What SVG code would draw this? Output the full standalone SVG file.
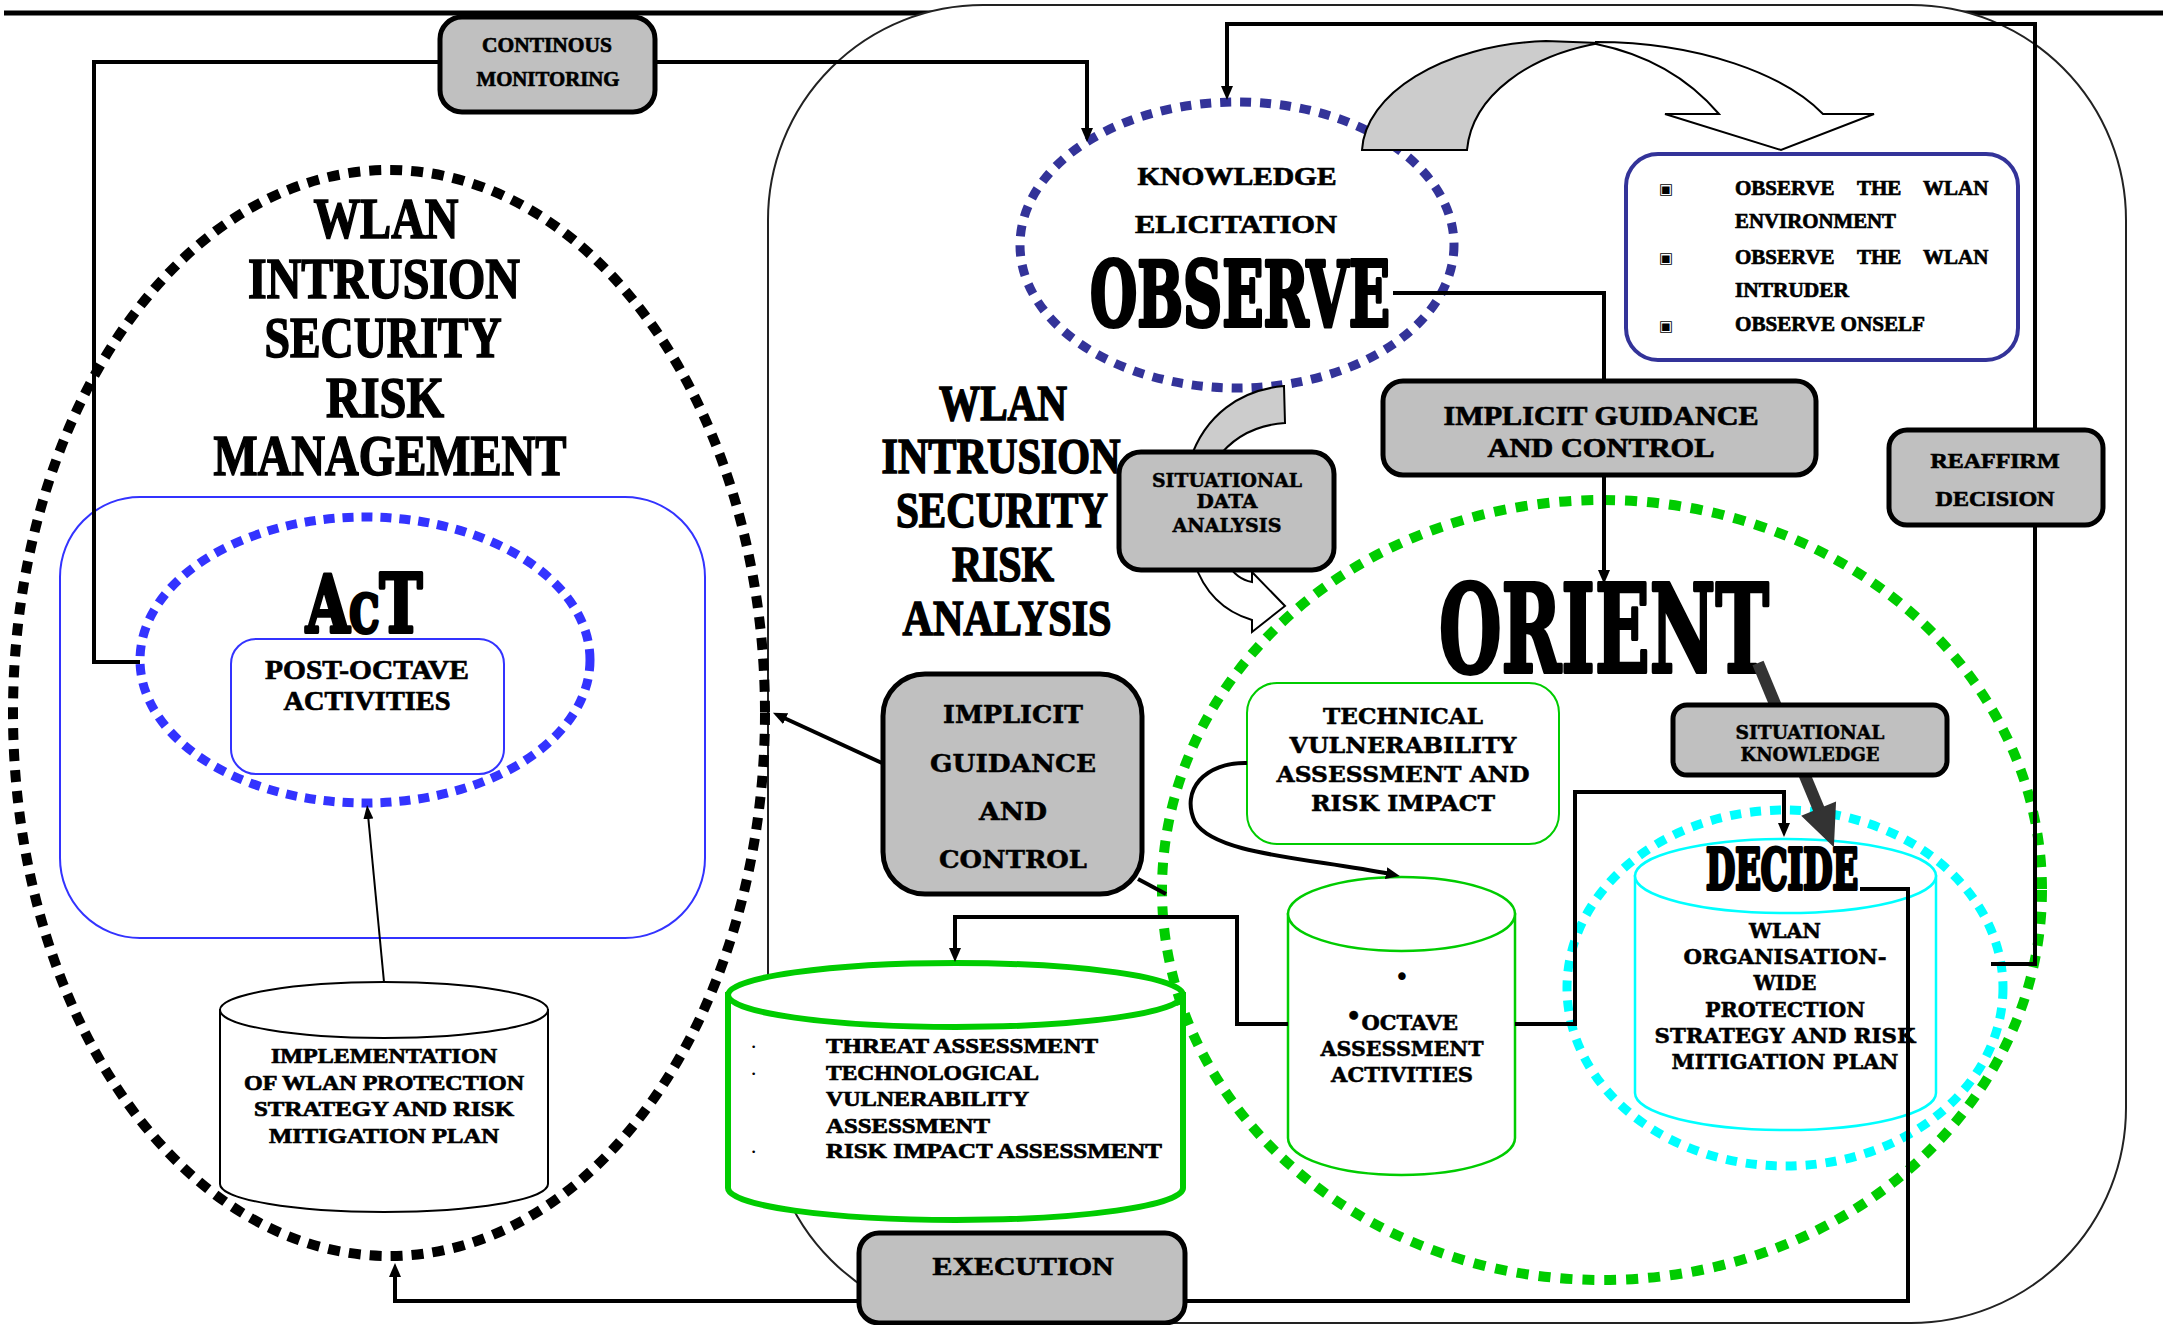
<svg xmlns="http://www.w3.org/2000/svg" width="2163" height="1325" viewBox="0 0 2163 1325">
  <defs>
    <style>
      .n { font-family: "Liberation Serif", "DejaVu Serif", serif; font-weight: bold; fill: #000; stroke: #000; stroke-width: 0.7; }
      .w { font-family: "DejaVu Serif", "Liberation Serif", serif; font-weight: bold; fill: #000; stroke: #000; stroke-width: 0.5; }
      .g { font-family: "DejaVu Serif", "Liberation Serif", serif; font-weight: bold; fill: #000; stroke: #000; stroke-width: 4; stroke-linejoin: round; }
      .big { stroke: #000; stroke-width: 1.6; }
      .c { text-anchor: middle; }
      .box { fill: #c0c0c0; stroke: #000; stroke-width: 5; }
      .wire { fill: none; stroke: #000; stroke-width: 4; }
      .arr { marker-end: url(#ah); }
      .dotk { fill: none; stroke: #000; stroke-width: 10; stroke-dasharray: 12 9; }
      .dotn { fill: none; stroke: #333399; stroke-width: 9; stroke-dasharray: 11 9; }
      .dotb { fill: none; stroke: #3333ff; stroke-width: 9; stroke-dasharray: 11 8; }
      .dotg { fill: none; stroke: #00cc00; stroke-width: 10; stroke-dasharray: 12 10; }
      .dotc { fill: none; stroke: #00ffff; stroke-width: 9; stroke-dasharray: 11 9; }
      .bul { font-family: "DejaVu Sans", sans-serif; fill: #000; }
    </style>
    <marker id="ah" viewBox="0 0 14 12" refX="4" refY="6" markerWidth="14" markerHeight="12" markerUnits="userSpaceOnUse" orient="auto">
      <path d="M0,0 L14,6 L0,12 Z" fill="#000"/>
    </marker>
    <marker id="ah2" viewBox="0 0 14 12" refX="4" refY="6" markerWidth="14" markerHeight="12" markerUnits="userSpaceOnUse" orient="auto">
      <path d="M0,1 L14,6 L0,11 Z" fill="#000"/>
    </marker>
  </defs>

  <rect width="2163" height="1325" fill="#fff"/>

  <!-- page rule and the large rounded frame -->
  <line x1="4" y1="13" x2="2163" y2="13" stroke="#000" stroke-width="5"/>
  <rect id="frame" x="768" y="5" width="1358" height="1318" rx="215" ry="215" fill="#fff" stroke="#222" stroke-width="2"/>

  <!-- cylinders -->
  <g id="implementation-plan">
    <path d="M220,1010 V1184 A164,28 0 0 0 548,1184 V1010 Z" fill="#fff" stroke="#000" stroke-width="2"/>
    <ellipse cx="384" cy="1010" rx="164" ry="28" fill="#fff" stroke="#000" stroke-width="2"/>
    <text class="n c" font-size="21" x="384" y="1063" textLength="226" lengthAdjust="spacingAndGlyphs">IMPLEMENTATION</text>
    <text class="n c" font-size="21" x="384" y="1090" textLength="280" lengthAdjust="spacingAndGlyphs">OF WLAN PROTECTION</text>
    <text class="n c" font-size="21" x="384" y="1116" textLength="260" lengthAdjust="spacingAndGlyphs">STRATEGY AND RISK</text>
    <text class="n c" font-size="21" x="384" y="1143" textLength="230" lengthAdjust="spacingAndGlyphs">MITIGATION PLAN</text>
  </g>

  <g id="threat-assessment">
    <path d="M728,995 V1188 A227.5,32 0 0 0 1183,1188 V995 Z" fill="#fff" stroke="#00cc00" stroke-width="6"/>
    <ellipse cx="955.5" cy="995" rx="227.5" ry="32" fill="#fff" stroke="#00cc00" stroke-width="6"/>
    <text class="bul" font-size="9" x="751" y="1050">•</text>
    <text class="bul" font-size="9" x="751" y="1077">•</text>
    <text class="bul" font-size="9" x="751" y="1155">•</text>
    <text class="n" font-size="21" x="826" y="1053" textLength="272" lengthAdjust="spacingAndGlyphs">THREAT ASSESSMENT</text>
    <text class="n" font-size="21" x="826" y="1080" textLength="213" lengthAdjust="spacingAndGlyphs">TECHNOLOGICAL</text>
    <text class="n" font-size="21" x="826" y="1106" textLength="203" lengthAdjust="spacingAndGlyphs">VULNERABILITY</text>
    <text class="n" font-size="21" x="826" y="1133" textLength="164" lengthAdjust="spacingAndGlyphs">ASSESSMENT</text>
    <text class="n" font-size="21" x="826" y="1158" textLength="336" lengthAdjust="spacingAndGlyphs">RISK IMPACT ASSESSMENT</text>
  </g>

  <g id="octave-activities">
    <path d="M1288,914 V1138 A113.5,37 0 0 0 1515,1138 V914 Z" fill="#fff" stroke="#00cc00" stroke-width="2.5"/>
    <ellipse cx="1401.5" cy="914" rx="113.5" ry="37" fill="#fff" stroke="#00cc00" stroke-width="2.5"/>
    <text class="bul c" font-size="26" x="1402" y="986">•</text>
    <text class="w c" font-size="21" x="1402" y="1030"><tspan font-size="24" dy="-6">•</tspan><tspan dy="6">OCTAVE</tspan></text>
    <text class="w c" font-size="21" x="1402" y="1056" textLength="163" lengthAdjust="spacingAndGlyphs">ASSESSMENT</text>
    <text class="w c" font-size="21" x="1402" y="1082" textLength="142" lengthAdjust="spacingAndGlyphs">ACTIVITIES</text>
  </g>

  <g id="decide-plan">
    <path d="M1635,876 V1093 A150.5,37 0 0 0 1936,1093 V876 Z" fill="#fff" stroke="#00ffff" stroke-width="2.5"/>
    <ellipse cx="1785.5" cy="876" rx="150.5" ry="37" fill="#fff" stroke="#00ffff" stroke-width="2.5"/>
    <text class="w c" font-size="20" x="1785" y="938" textLength="72" lengthAdjust="spacingAndGlyphs">WLAN</text>
    <text class="w c" font-size="20" x="1785" y="964" textLength="203" lengthAdjust="spacingAndGlyphs">ORGANISATION-</text>
    <text class="w c" font-size="20" x="1785" y="990" textLength="63" lengthAdjust="spacingAndGlyphs">WIDE</text>
    <text class="w c" font-size="20" x="1785" y="1017" textLength="160" lengthAdjust="spacingAndGlyphs">PROTECTION</text>
    <text class="w c" font-size="20" x="1785" y="1043" textLength="261" lengthAdjust="spacingAndGlyphs">STRATEGY AND RISK</text>
    <text class="w c" font-size="20" x="1785" y="1069" textLength="227" lengthAdjust="spacingAndGlyphs">MITIGATION PLAN</text>
  </g>

  <!-- dotted phase rings -->
  <g id="management">
    <ellipse class="dotk" cx="389" cy="713" rx="376" ry="543"/>
    <text class="n c big" font-size="57" x="386" y="238" textLength="145" lengthAdjust="spacingAndGlyphs">WLAN</text>
    <text class="n c big" font-size="57" x="384" y="298" textLength="272" lengthAdjust="spacingAndGlyphs">INTRUSION</text>
    <text class="n c big" font-size="57" x="383" y="357" textLength="237" lengthAdjust="spacingAndGlyphs">SECURITY</text>
    <text class="n c big" font-size="57" x="385" y="417" textLength="118" lengthAdjust="spacingAndGlyphs">RISK</text>
    <text class="n c big" font-size="57" x="390" y="475" textLength="353" lengthAdjust="spacingAndGlyphs">MANAGEMENT</text>
  </g>

  <g id="act">
    <rect x="60" y="497" width="645" height="441" rx="80" ry="80" fill="none" stroke="#3333ff" stroke-width="2"/>
    <ellipse class="dotb" cx="365" cy="660" rx="225" ry="143"/>
    <text class="g" transform="translate(306,632) scale(0.72,1)" x="0" y="0"><tspan font-size="78">A</tspan><tspan font-size="52">C</tspan><tspan font-size="80">T</tspan></text>
  </g>

  <g id="post-octave">
    <rect x="231" y="639" width="273" height="135" rx="25" ry="25" fill="#fff" stroke="#3333ff" stroke-width="2"/>
    <text class="n c" font-size="27" x="367" y="679" textLength="204" lengthAdjust="spacingAndGlyphs">POST-OCTAVE</text>
    <text class="n c" font-size="27" x="367" y="710" textLength="167" lengthAdjust="spacingAndGlyphs">ACTIVITIES</text>
  </g>

  <g id="observe">
    <ellipse class="dotn" cx="1237" cy="245" rx="217" ry="143"/>
    <text class="n c" font-size="26" x="1237" y="185" textLength="199" lengthAdjust="spacingAndGlyphs">KNOWLEDGE</text>
    <text class="n c" font-size="26" x="1236" y="233" textLength="202" lengthAdjust="spacingAndGlyphs">ELICITATION</text>
    <text class="g c" font-size="90" x="1240" y="326" textLength="300" lengthAdjust="spacingAndGlyphs">OBSERVE</text>
  </g>

  <g id="orient">
    <ellipse class="dotg" cx="1602" cy="890" rx="440" ry="390"/>
    <text class="g c" font-size="122" x="1604" y="672" textLength="330" lengthAdjust="spacingAndGlyphs">ORIENT</text>
  </g>

  <g id="decide">
    <ellipse class="dotc" cx="1785" cy="988" rx="218" ry="178"/>
    <text class="g c" font-size="56" x="1782" y="889" textLength="152" lengthAdjust="spacingAndGlyphs">DECIDE</text>
  </g>

  <g id="technical-assessment">
    <rect x="1247" y="683" width="312" height="161" rx="30" ry="30" fill="#fff" stroke="#00cc00" stroke-width="2"/>
    <text class="w c" font-size="22" x="1403" y="724" textLength="160" lengthAdjust="spacingAndGlyphs">TECHNICAL</text>
    <text class="w c" font-size="22" x="1403" y="753" textLength="227" lengthAdjust="spacingAndGlyphs">VULNERABILITY</text>
    <text class="w c" font-size="22" x="1403" y="782" textLength="253" lengthAdjust="spacingAndGlyphs">ASSESSMENT AND</text>
    <text class="w c" font-size="22" x="1403" y="811" textLength="184" lengthAdjust="spacingAndGlyphs">RISK IMPACT</text>
  </g>

  <g id="observe-list">
    <rect x="1626" y="154" width="392" height="206" rx="32" ry="32" fill="#fff" stroke="#333399" stroke-width="4"/>
    <text class="bul c" font-size="15" x="1666" y="194">▣</text>
    <text class="bul c" font-size="15" x="1666" y="263">▣</text>
    <text class="bul c" font-size="15" x="1666" y="331">▣</text>
    <text class="n" font-size="21"><tspan x="1735" y="195">OBSERVE</tspan><tspan x="1857" y="195">THE</tspan><tspan x="1923" y="195">WLAN</tspan></text>
    <text class="n" font-size="21" x="1735" y="228" textLength="161" lengthAdjust="spacingAndGlyphs">ENVIRONMENT</text>
    <text class="n" font-size="21"><tspan x="1735" y="264">OBSERVE</tspan><tspan x="1857" y="264">THE</tspan><tspan x="1923" y="264">WLAN</tspan></text>
    <text class="n" font-size="21" x="1735" y="297" textLength="114" lengthAdjust="spacingAndGlyphs">INTRUDER</text>
    <text class="n" font-size="21" x="1735" y="331" textLength="190" lengthAdjust="spacingAndGlyphs">OBSERVE ONSELF</text>
  </g>

  <!-- middle title -->
  <g id="analysis-title">
    <text class="n c big" font-size="50" x="1003" y="420" textLength="128" lengthAdjust="spacingAndGlyphs">WLAN</text>
    <text class="n c big" font-size="50" x="1001" y="473" textLength="239" lengthAdjust="spacingAndGlyphs">INTRUSION</text>
    <text class="n c big" font-size="50" x="1002" y="527" textLength="212" lengthAdjust="spacingAndGlyphs">SECURITY</text>
    <text class="n c big" font-size="50" x="1003" y="581" textLength="102" lengthAdjust="spacingAndGlyphs">RISK</text>
    <text class="n c big" font-size="50" x="1007" y="635" textLength="209" lengthAdjust="spacingAndGlyphs">ANALYSIS</text>
  </g>

  <!-- block arrows -->
  <g id="observe-arrow" stroke="#000" stroke-width="2" stroke-linejoin="miter">
    <path d="M1362,150 C1365,95 1440,45 1546,41 L1600,43 C1530,55 1472,95 1467,150 Z" fill="#cccccc"/>
    <path d="M1596,42 C1700,42 1785,75 1823,114 L1874,114 L1781,150 L1665,114 L1719,114 C1690,80 1650,55 1596,44 Z" fill="#fff"/>
  </g>
  <g id="analysis-arrow" stroke="#000" stroke-width="2">
    <path d="M1284,386 C1240,390 1205,415 1190,460 L1216,460 C1232,438 1255,425 1285,423 Z" fill="#cccccc"/>
    <path d="M1194,562 C1205,595 1225,612 1252,620 L1252,632 L1285,606 L1252,572 L1252,582 C1240,580 1232,572 1226,562 Z" fill="#fff"/>
  </g>
  <g id="knowledge-arrow">
    <line x1="1758" y1="663" x2="1820" y2="812" stroke="#333" stroke-width="12"/>
    <polygon points="1833,845 1835,803 1803,816" fill="#333" stroke="#333" stroke-width="2"/>
  </g>

  <!-- connectors -->
  <g id="connectors">
    <path class="wire" d="M140,662 H94 V62 H440"/>
    <path class="wire arr" d="M655,62 H1087 V132"/>
    <path class="wire" d="M1393,293 H1604 V381"/>
    <path class="wire arr" d="M1604,475 V574"/>
    <path class="wire arr" d="M1991,964 H2035 V24 H1227 V90"/>
    <path class="wire arr" d="M1288,1024 H1237 V917 H955 V952"/>
    <path class="wire arr" d="M1515,1024 H1575 V792 H1784 V827"/>
    <path class="wire arr" d="M859,1301 H395 V1273"/>
    <path class="wire" d="M1185,1301 H1908 V889 H1860"/>
    <path class="wire arr" d="M882,763 L782,717" stroke-width="3.5"/>
    <path class="wire" d="M1138,879 L1166,894" stroke-width="3.5"/>
    <path fill="none" stroke="#000" stroke-width="2" marker-end="url(#ah2)" d="M384,982 L368,815"/>
    <path class="wire arr" stroke-width="5" d="M1247,763 C1205,762 1180,790 1195,822 C1215,855 1310,858 1390,874"/>
  </g>

  <!-- labelled boxes -->
  <g id="continuous-monitoring">
    <rect class="box" x="440" y="17" width="215" height="95" rx="22" ry="22"/>
    <text class="n c" font-size="22" x="547" y="52" textLength="130" lengthAdjust="spacingAndGlyphs">CONTINOUS</text>
    <text class="n c" font-size="22" x="548" y="86" textLength="143" lengthAdjust="spacingAndGlyphs">MONITORING</text>
  </g>

  <g id="implicit-guidance-top">
    <rect class="box" x="1383" y="381" width="433" height="94" rx="20" ry="20"/>
    <text class="n c" font-size="27" x="1601" y="425" textLength="315" lengthAdjust="spacingAndGlyphs">IMPLICIT GUIDANCE</text>
    <text class="n c" font-size="27" x="1601" y="457" textLength="227" lengthAdjust="spacingAndGlyphs">AND CONTROL</text>
  </g>

  <g id="situational-data-analysis">
    <rect class="box" x="1119" y="452" width="215" height="118" rx="22" ry="22"/>
    <text class="w c" font-size="18" x="1227" y="487" textLength="150" lengthAdjust="spacingAndGlyphs">SITUATIONAL</text>
    <text class="w c" font-size="18" x="1227" y="508" textLength="61" lengthAdjust="spacingAndGlyphs">DATA</text>
    <text class="w c" font-size="18" x="1227" y="532" textLength="109" lengthAdjust="spacingAndGlyphs">ANALYSIS</text>
  </g>

  <g id="reaffirm-decision">
    <rect class="box" x="1889" y="430" width="214" height="95" rx="18" ry="18"/>
    <text class="n c" font-size="22" x="1995" y="468" textLength="129" lengthAdjust="spacingAndGlyphs">REAFFIRM</text>
    <text class="n c" font-size="22" x="1995" y="506" textLength="119" lengthAdjust="spacingAndGlyphs">DECISION</text>
  </g>

  <g id="situational-knowledge">
    <rect class="box" x="1673" y="705" width="274" height="70" rx="14" ry="14"/>
    <text class="w c" font-size="18" x="1810" y="739" textLength="149" lengthAdjust="spacingAndGlyphs">SITUATIONAL</text>
    <text class="w c" font-size="18" x="1810" y="761" textLength="139" lengthAdjust="spacingAndGlyphs">KNOWLEDGE</text>
  </g>

  <g id="implicit-guidance-middle">
    <rect class="box" x="883" y="674" width="259" height="220" rx="42" ry="42"/>
    <text class="w c" font-size="25" x="1013" y="723" textLength="140" lengthAdjust="spacingAndGlyphs">IMPLICIT</text>
    <text class="w c" font-size="25" x="1013" y="772" textLength="166" lengthAdjust="spacingAndGlyphs">GUIDANCE</text>
    <text class="w c" font-size="25" x="1013" y="820" textLength="68" lengthAdjust="spacingAndGlyphs">AND</text>
    <text class="w c" font-size="25" x="1013" y="868" textLength="148" lengthAdjust="spacingAndGlyphs">CONTROL</text>
  </g>

  <g id="execution">
    <rect class="box" x="859" y="1233" width="326" height="90" rx="20" ry="20"/>
    <text class="n c" font-size="26" x="1023" y="1275" textLength="181" lengthAdjust="spacingAndGlyphs">EXECUTION</text>
  </g>
</svg>
